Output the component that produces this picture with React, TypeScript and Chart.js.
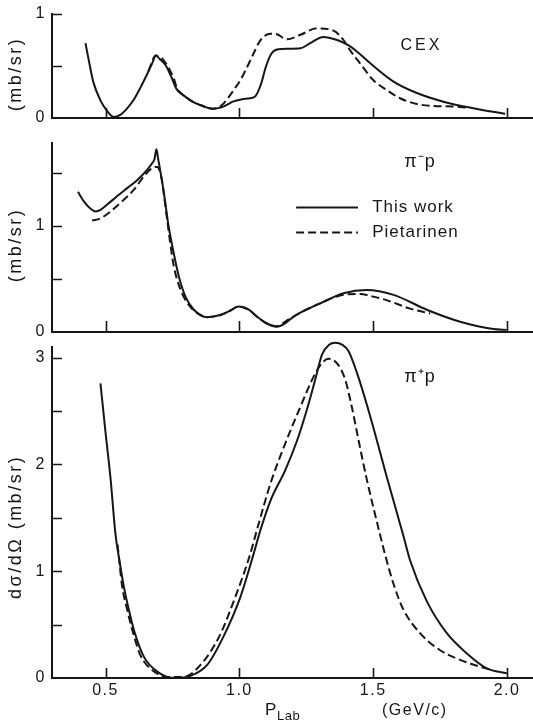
import React, { useEffect, useRef } from 'react';
import { Chart, registerables } from 'chart.js';

Chart.register(...registerables);

// ---------------- data ----------------
const P_TICKS = [0.5, 1.0, 1.5, 2.0];
const P_TICK_LABELS = ['0.5', '1.0', '1.5', '2.0'];
const SERIES_LABELS = ['This work', 'Pietarinen'];

const CEX_Y_TICKS = [0, 0.5, 1];
const CEX_Y_LABELS = ['0', '', '1'];
const PIM_Y_TICKS = [0, 0.5, 1, 1.5];
const PIM_Y_LABELS = ['0', '', '1', ''];
const PIP_Y_TICKS = [0, 0.5, 1, 1.5, 2, 2.5, 3];
const PIP_Y_LABELS = ['0', '', '1', '', '2', '', '3'];

// CEX
const CEX_THIS_P = [0.425, 0.44, 0.455, 0.481, 0.505, 0.53, 0.555, 0.58, 0.604, 0.63, 0.657, 0.675, 0.688, 0.705, 0.724, 0.745, 0.765, 0.785, 0.806, 0.83, 0.854, 0.88, 0.90, 0.92, 0.94, 0.978, 1.01, 1.04, 1.06, 1.08, 1.10, 1.12, 1.145, 1.18, 1.228, 1.265, 1.313, 1.365, 1.407, 1.439, 1.489, 1.576, 1.663, 1.762, 1.874, 1.993];
const CEX_THIS_V = [0.72, 0.52, 0.34, 0.17, 0.07, 0.01, 0.03, 0.09, 0.17, 0.29, 0.43, 0.53, 0.60, 0.56, 0.51, 0.40, 0.28, 0.23, 0.19, 0.15, 0.125, 0.10, 0.09, 0.095, 0.11, 0.16, 0.18, 0.19, 0.21, 0.32, 0.50, 0.62, 0.66, 0.665, 0.67, 0.72, 0.78, 0.75, 0.70, 0.64, 0.526, 0.35, 0.24, 0.157, 0.094, 0.04];
const CEX_PIET_P = [0.66, 0.688, 0.712, 0.736, 0.755, 0.768, 0.785, 0.806, 0.83, 0.854, 0.88, 0.90, 0.92, 0.935, 0.954, 0.979, 1.004, 1.029, 1.053, 1.072, 1.09, 1.116, 1.14, 1.178, 1.228, 1.29, 1.352, 1.389, 1.414, 1.451, 1.50, 1.55, 1.60, 1.663, 1.725, 1.80, 1.85];
const CEX_PIET_V = [0.45, 0.60, 0.57, 0.48, 0.38, 0.28, 0.23, 0.19, 0.15, 0.125, 0.10, 0.09, 0.10, 0.125, 0.18, 0.27, 0.365, 0.49, 0.62, 0.72, 0.78, 0.81, 0.805, 0.757, 0.80, 0.862, 0.84, 0.75, 0.65, 0.526, 0.365, 0.27, 0.19, 0.135, 0.115, 0.11, 0.10];

// pi- p
const PIM_THIS_P = [0.397, 0.419, 0.444, 0.463, 0.481, 0.506, 0.544, 0.581, 0.618, 0.656, 0.674, 0.683, 0.69, 0.696, 0.703, 0.718, 0.736, 0.755, 0.774, 0.799, 0.83, 0.879, 0.929, 0.965, 0.997, 1.035, 1.066, 1.103, 1.14, 1.17, 1.203, 1.25, 1.302, 1.389, 1.476, 1.576, 1.70, 1.825, 1.949, 1.999];
const PIM_THIS_V = [1.32, 1.23, 1.16, 1.135, 1.15, 1.20, 1.28, 1.355, 1.43, 1.53, 1.59, 1.63, 1.72, 1.64, 1.54, 1.31, 0.99, 0.74, 0.52, 0.33, 0.21, 0.14, 0.16, 0.20, 0.24, 0.21, 0.145, 0.08, 0.05, 0.08, 0.145, 0.21, 0.27, 0.365, 0.396, 0.35, 0.21, 0.097, 0.028, 0.02];
const PIM_PIET_P = [0.45, 0.481, 0.519, 0.568, 0.606, 0.643, 0.674, 0.693, 0.708, 0.724, 0.74, 0.755, 0.78, 0.811, 0.842, 0.879, 0.929, 0.965, 0.997, 1.035, 1.066, 1.103, 1.14, 1.178, 1.25, 1.302, 1.389, 1.451, 1.50, 1.55, 1.638, 1.713];
const PIM_PIET_V = [1.05, 1.07, 1.135, 1.245, 1.34, 1.465, 1.545, 1.555, 1.465, 1.18, 0.87, 0.62, 0.40, 0.255, 0.18, 0.14, 0.16, 0.20, 0.24, 0.21, 0.145, 0.08, 0.055, 0.11, 0.21, 0.27, 0.35, 0.358, 0.333, 0.30, 0.22, 0.175];

// pi+ p
const PIP_THIS_P = [0.481, 0.50, 0.519, 0.537, 0.552, 0.568, 0.587, 0.606, 0.643, 0.693, 0.755, 0.817, 0.879, 0.941, 1.004, 1.053, 1.078, 1.116, 1.172, 1.215, 1.253, 1.284, 1.309, 1.335, 1.358, 1.385, 1.408, 1.439, 1.489, 1.551, 1.613, 1.638, 1.70, 1.775, 1.85, 1.924, 1.999];
const PIP_THIS_V = [2.76, 2.30, 1.86, 1.35, 1.10, 0.86, 0.64, 0.45, 0.20, 0.06, 0.0, 0.02, 0.12, 0.39, 0.76, 1.16, 1.38, 1.66, 1.95, 2.22, 2.52, 2.80, 3.03, 3.12, 3.14, 3.12, 3.06, 2.86, 2.45, 1.88, 1.33, 1.10, 0.72, 0.42, 0.23, 0.09, 0.044];
const PIP_PIET_P = [0.545, 0.562, 0.581, 0.60, 0.63, 0.674, 0.73, 0.792, 0.854, 0.925, 0.985, 1.038, 1.066, 1.116, 1.172, 1.228, 1.277, 1.309, 1.333, 1.37, 1.396, 1.42, 1.445, 1.476, 1.514, 1.545, 1.576, 1.613, 1.675, 1.75, 1.825, 1.90, 1.937];
const PIP_PIET_V = [1.25, 0.86, 0.64, 0.45, 0.215, 0.075, 0.01, 0.01, 0.12, 0.39, 0.76, 1.14, 1.39, 1.82, 2.20, 2.54, 2.82, 2.95, 2.99, 2.93, 2.79, 2.54, 2.23, 1.86, 1.46, 1.15, 0.88, 0.64, 0.42, 0.26, 0.17, 0.105, 0.08];

// ---------------- style / layout ----------------
const INK = '#161616';
const FONT = "'Liberation Sans', Arial, sans-serif";
const DASH = [8, 4];
const P_MIN = 0.3;
const P_MAX = 2.097;
const Y_AXIS_W = 52;
const W = 533;

type Panel = {
  key: string;
  top: number;
  height: number;
  padTop: number;
  axisH: number;
  yMax: number;
  yTicks: number[];
  yLabels: string[];
  yTitle: string;
  yTitleAt: number;
  label: string;
  labelFont: number;
  labelSpacing: string;
  labelAt: [number, number];
  thisP: number[];
  thisV: number[];
  pietP: number[];
  pietV: number[];
  showP: boolean;
  pTickLen: number;
  legend?: { from: number; to: number; text: number; rows: number[] };
  pTitle?: { p: number; unit: number };
};

const PANELS: Panel[] = [
  {
    key: 'cex', top: 0, height: 140, padTop: 14, axisH: 22, yMax: 1.0,
    yTicks: CEX_Y_TICKS, yLabels: CEX_Y_LABELS, yTitle: '(mb/sr)', yTitleAt: 0.423,
    label: 'CEX', labelFont: 16, labelSpacing: '3px', labelAt: [1.68, 0.70],
    thisP: CEX_THIS_P, thisV: CEX_THIS_V, pietP: CEX_PIET_P, pietV: CEX_PIET_V,
    showP: false, pTickLen: 10,
  },
  {
    key: 'pim', top: 130, height: 215, padTop: 13, axisH: 13, yMax: 1.78,
    yTicks: PIM_Y_TICKS, yLabels: PIM_Y_LABELS, yTitle: '(mb/sr)', yTitleAt: 0.82,
    label: 'π⁻p', labelFont: 18, labelSpacing: '1px', labelAt: [1.675, 1.60],
    thisP: PIM_THIS_P, thisV: PIM_THIS_V, pietP: PIM_PIET_P, pietV: PIM_PIET_V,
    showP: false, pTickLen: 11,
    legend: { from: 1.212, to: 1.443, text: 1.496, rows: [1.18, 0.943] },
  },
  {
    key: 'pip', top: 338, height: 383, padTop: 9, axisH: 43, yMax: 3.10,
    yTicks: PIP_Y_TICKS, yLabels: PIP_Y_LABELS, yTitle: 'dσ/dΩ (mb/sr)', yTitleAt: 1.415,
    label: 'π⁺p', labelFont: 18, labelSpacing: '1px', labelAt: [1.675, 2.82],
    thisP: PIP_THIS_P, thisV: PIP_THIS_V, pietP: PIP_PIET_P, pietV: PIP_PIET_V,
    showP: true, pTickLen: 10,
    pTitle: { p: 1.096, unit: 1.533 },
  },
];

function makeDecor(panel: Panel) {
  return {
    id: 'panelDecor',
    beforeDraw(chart: any) {
      chart.ctx.letterSpacing = '1.5px';
    },
    afterDraw(chart: any) {
      const ctx = chart.ctx;
      const a = chart.chartArea;
      const x = chart.scales.x;
      const y = chart.scales.y;
      ctx.save();
      ctx.letterSpacing = '0px';
      // inward tick marks
      ctx.strokeStyle = INK;
      ctx.lineWidth = 1.6;
      ctx.setLineDash([]);
      ctx.beginPath();
      for (const v of P_TICKS) {
        const px = Math.round(x.getPixelForValue(v)) + 0.5;
        ctx.moveTo(px, a.bottom);
        ctx.lineTo(px, a.bottom - panel.pTickLen);
      }
      for (const v of panel.yTicks) {
        if (v === 0) continue;
        const py = Math.round(y.getPixelForValue(v)) + 0.5;
        ctx.moveTo(a.left, py);
        ctx.lineTo(a.left + 10, py);
      }
      ctx.stroke();

      ctx.fillStyle = INK;

      // vertical axis title
      ctx.save();
      ctx.translate(16, y.getPixelForValue(panel.yTitleAt));
      ctx.rotate(-Math.PI / 2);
      ctx.font = `18px ${FONT}`;
      ctx.letterSpacing = '2.5px';
      ctx.textAlign = 'center';
      ctx.textBaseline = 'middle';
      ctx.fillText(panel.yTitle, 0, 0);
      ctx.restore();

      // panel label
      ctx.font = `${panel.labelFont}px ${FONT}`;
      ctx.letterSpacing = panel.labelSpacing;
      ctx.textAlign = 'center';
      ctx.textBaseline = 'middle';
      ctx.fillText(panel.label, x.getPixelForValue(panel.labelAt[0]), y.getPixelForValue(panel.labelAt[1]));

      // legend
      if (panel.legend) {
        const L = panel.legend;
        const x0 = x.getPixelForValue(L.from);
        const x1 = x.getPixelForValue(L.to);
        const tx = x.getPixelForValue(L.text);
        chart.data.datasets.forEach((ds: any, i: number) => {
          const py = Math.round(y.getPixelForValue(L.rows[i])) + 0.5;
          ctx.lineWidth = 1.8;
          ctx.setLineDash(ds.borderDash || []);
          ctx.beginPath();
          ctx.moveTo(x0, py);
          ctx.lineTo(x1, py);
          ctx.stroke();
          ctx.setLineDash([]);
          ctx.font = `17px ${FONT}`;
          ctx.letterSpacing = '1px';
          ctx.textAlign = 'left';
          ctx.textBaseline = 'middle';
          ctx.fillText(ds.label, tx, py);
        });
      }

      // P axis title
      if (panel.pTitle) {
        const base = a.bottom + 37;
        const px = x.getPixelForValue(panel.pTitle.p);
        ctx.textAlign = 'left';
        ctx.textBaseline = 'alphabetic';
        ctx.letterSpacing = '0px';
        ctx.font = `17px ${FONT}`;
        ctx.fillText('P', px, base);
        ctx.font = `13px ${FONT}`;
        ctx.letterSpacing = '0.5px';
        ctx.fillText('Lab', px + 12, base + 5);
        ctx.font = `16px ${FONT}`;
        ctx.letterSpacing = '1.5px';
        ctx.fillText('(GeV/c)', x.getPixelForValue(panel.pTitle.unit), base);
      }
      ctx.restore();
      ctx.letterSpacing = '0px';
    },
  };
}

function buildConfig(panel: Panel): any {
  const pts = (xs: number[], ys: number[]) => xs.map((v, i) => ({ x: v, y: ys[i] }));
  const zeroPad = (s: any) => {
    s.paddingTop = 0;
    s.paddingBottom = 0;
    s.paddingLeft = 0;
    s.paddingRight = 0;
  };
  return {
    type: 'line',
    data: {
      datasets: [
        {
          label: SERIES_LABELS[0], data: pts(panel.thisP, panel.thisV),
          borderColor: INK, borderWidth: 2, pointRadius: 0, fill: false,
          cubicInterpolationMode: 'monotone', clip: false,
        },
        {
          label: SERIES_LABELS[1], data: pts(panel.pietP, panel.pietV),
          borderColor: INK, borderWidth: 2, borderDash: DASH, pointRadius: 0, fill: false,
          cubicInterpolationMode: 'monotone', clip: false,
        },
      ],
    },
    options: {
      animation: false,
      responsive: false,
      events: [],
      layout: { padding: { top: panel.padTop, left: 0, right: 0, bottom: 0 } },
      plugins: { legend: { display: false }, tooltip: { enabled: false } },
      scales: {
        x: {
          type: 'linear', min: P_MIN, max: P_MAX,
          afterBuildTicks: (s: any) => { s.ticks = P_TICKS.map((v) => ({ value: v })); },
          afterFit: (s: any) => { s.height = panel.axisH; zeroPad(s); },
          grid: { display: true, drawOnChartArea: false, drawTicks: false },
          border: { display: true, color: INK, width: 2 },
          ticks: {
            display: panel.showP, padding: 3, color: INK, autoSkip: false, maxRotation: 0,
            font: { family: FONT, size: 16 },
            callback: (_v: any, i: number) => P_TICK_LABELS[i],
          },
        },
        y: {
          type: 'linear', min: 0, max: panel.yMax,
          afterBuildTicks: (s: any) => { s.ticks = panel.yTicks.map((v) => ({ value: v })); },
          afterFit: (s: any) => { s.width = Y_AXIS_W; zeroPad(s); },
          grid: { display: true, drawOnChartArea: false, drawTicks: false },
          border: { display: true, color: INK, width: 2 },
          ticks: {
            padding: 6, color: INK, autoSkip: false,
            font: { family: FONT, size: 16 },
            callback: (_v: any, i: number) => panel.yLabels[i],
          },
          title: { display: false, text: panel.yTitle },
        },
      },
    },
    plugins: [makeDecor(panel)],
  };
}

function PanelChart({ panel }: { panel: Panel }) {
  const ref = useRef<HTMLCanvasElement>(null);
  useEffect(() => {
    if (!ref.current) return;
    const chart = new Chart(ref.current, buildConfig(panel));
    return () => chart.destroy();
  }, [panel]);
  return (
    <canvas
      ref={ref}
      width={W}
      height={panel.height}
      style={{ position: 'absolute', left: 0, top: panel.top, width: W, height: panel.height }}
    />
  );
}

export default function App() {
  return (
    <div style={{ position: 'fixed', left: 0, top: 0, width: W, height: 721, background: '#fff', overflow: 'hidden' }}>
      {PANELS.map((p) => (
        <PanelChart key={p.key} panel={p} />
      ))}
    </div>
  );
}
